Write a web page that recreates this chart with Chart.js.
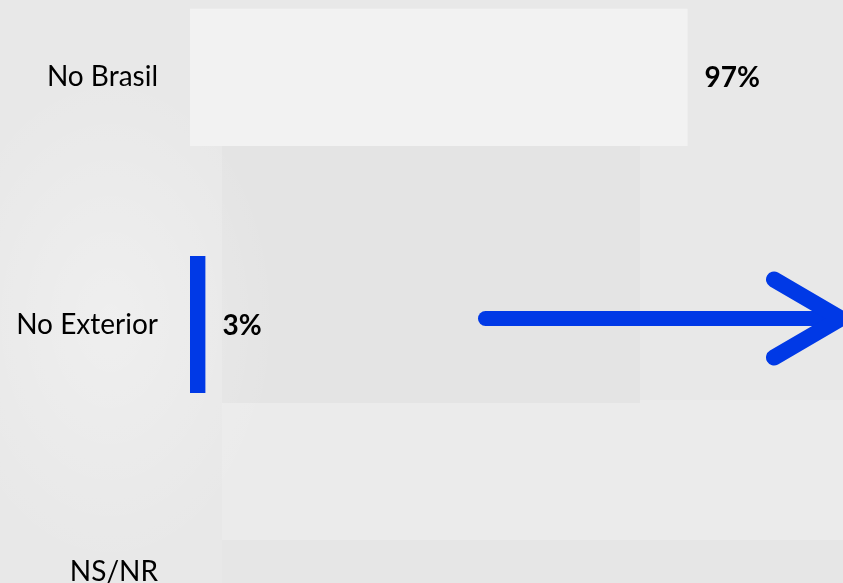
<!DOCTYPE html>
<html>
<head>
<meta charset="utf-8">
<script src="https://cdn.jsdelivr.net/npm/chart.js@4"></script>
<style>
    html, body { margin: 0; padding: 0; }
    body {
        width: 843px;
        height: 583px;
        overflow: hidden;
        background-color: #e8e8e8;
        background-image:
            radial-gradient(ellipse 170px 250px at 110px 320px, rgba(255,255,255,0.3), rgba(255,255,255,0) 100%),
            linear-gradient(#e4e4e4, #e4e4e4),
            linear-gradient(#ebebeb, #ebebeb),
            linear-gradient(#e6e6e6, #e6e6e6);
        background-size: auto, 418px 258px, 621px 140px, 621px 50px;
        background-position: 0 0, 222px 145px, 222px 400px, 222px 540px;
        background-repeat: no-repeat;
    }
    .wrap { position: relative; width: 843px; height: 583px; overflow: hidden; }
    .box { position: absolute; left: 0; top: -95px; width: 843px; height: 839px; }
</style>
</head>
<body>
<div class="wrap">
    <div class="box"><canvas id="chart"></canvas></div>
</div>
<script>
const categories = ['No Brasil', 'No Exterior', 'NS/NR'];
const values = [97, 3, 0];
const barColors = ['#f2f2f2', '#0039e6', '#0039e6'];

// value labels drawn at the end of each bar
const valueLabels = {
    id: 'valueLabels',
    afterDatasetsDraw(chart) {
        const ctx = chart.ctx;
        const meta = chart.getDatasetMeta(0);
        ctx.save();
        ctx.font = 'bold 28px Lato, "Open Sans", sans-serif';
        ctx.fillStyle = '#000000';
        ctx.textBaseline = 'middle';
        ctx.textAlign = 'left';
        meta.data.forEach((bar, i) => {
            if (!values[i]) return;
            ctx.fillText(values[i] + '%', bar.x + 17, bar.y + 1);
        });
        ctx.restore();
    }
};

// big blue arrow next to "No Exterior"
const arrow = {
    id: 'arrow',
    afterDraw(chart) {
        const ctx = chart.ctx;
        const y = chart.scales.y.getPixelForValue(1) - 6;
        const x0 = chart.scales.x.getPixelForValue(57.6);
        const x1 = chart.width - 2;
        ctx.save();
        ctx.strokeStyle = '#0039e6';
        ctx.lineCap = 'round';
        ctx.lineJoin = 'round';
        ctx.lineWidth = 15;
        ctx.beginPath();
        ctx.moveTo(x0, y);
        ctx.lineTo(x1, y);
        ctx.stroke();
        ctx.lineWidth = 16;
        ctx.beginPath();
        ctx.moveTo(x1 - 67, y - 39);
        ctx.lineTo(x1, y);
        ctx.lineTo(x1 - 67, y + 39);
        ctx.stroke();
        ctx.restore();
    }
};

new Chart(document.getElementById('chart'), {
    type: 'bar',
    data: {
        labels: categories,
        datasets: [{
            data: values,
            backgroundColor: barColors,
            borderWidth: 0,
            categoryPercentage: 1,
            barPercentage: 0.555
        }]
    },
    options: {
        indexAxis: 'y',
        responsive: true,
        maintainAspectRatio: false,
        animation: false,
        layout: { autoPadding: false, padding: { left: 0, right: 140, top: 0, bottom: 0 } },
        plugins: {
            legend: { display: false },
            tooltip: { enabled: false }
        },
        scales: {
            x: {
                display: false,
                min: 0,
                max: 100
            },
            y: {
                afterFit(scale) { scale.width = 190; },
                grid: { display: false, drawTicks: false },
                border: { display: false },
                ticks: {
                    color: '#000000',
                    padding: 32,
                    font: { family: 'Lato, "Open Sans", sans-serif', size: 28 }
                }
            }
        }
    },
    plugins: [valueLabels, arrow]
});
</script>
</body>
</html>
